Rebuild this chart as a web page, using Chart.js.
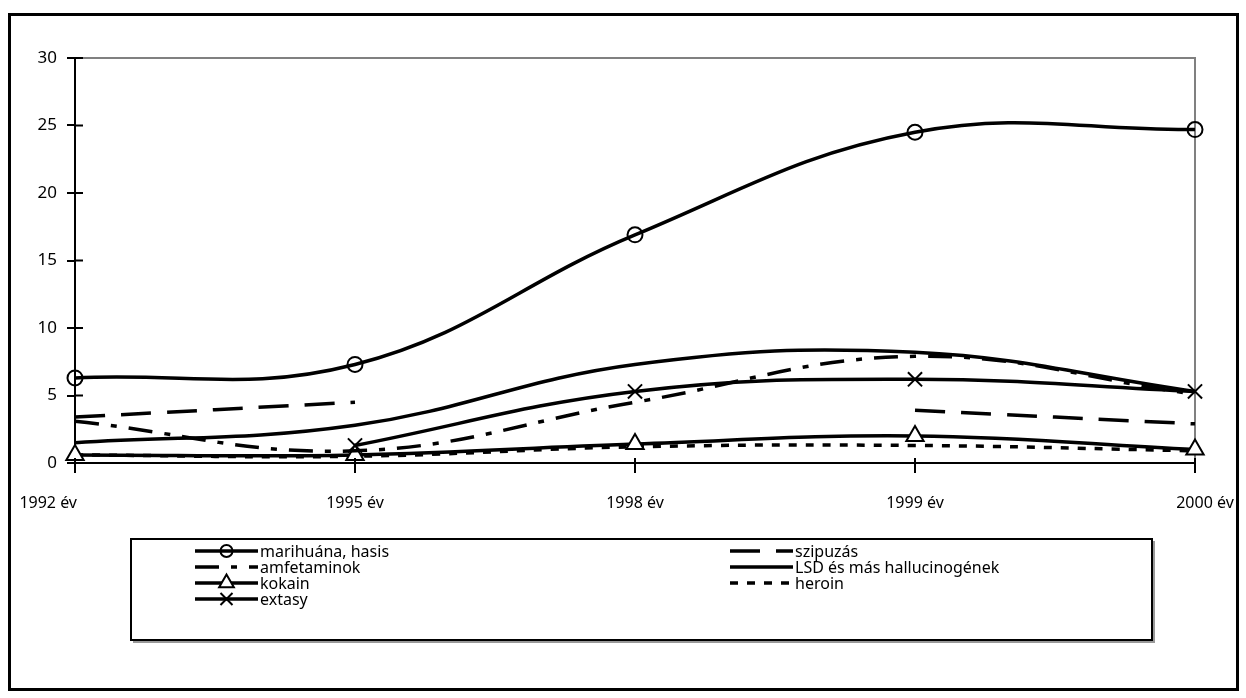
<!DOCTYPE html>
<html lang="hu">
<head>
<meta charset="UTF-8">
<script src="https://cdn.jsdelivr.net/npm/chart.js"></script>
<title>Drogfogyasztás</title>
<style>
  body { margin: 0; background: #fff; }
  #wrap { position: relative; width: 1246px; height: 698px; }
</style>
</head>
<body>
<div id="wrap"><canvas id="grafico"></canvas></div>

<script>
  // adatok
  const evek = ['1992 év', '1995 év', '1998 év', '1999 év', '2000 év'];
  const yTicks = [0, 5, 10, 15, 20, 25, 30];

  const marihuana = [6.3, 7.3, 16.9, 24.5, 24.7];
  const szipuzas = [3.4, 4.5, null, 3.9, 2.9];
  const amfetaminok = [3.1, 0.9, 4.5, 7.9, 5.1];
  const lsd = [1.5, 2.8, 7.3, 8.2, 5.3];
  const kokain = [0.6, 0.6, 1.4, 2.0, 1.0];
  const heroin = [0.6, 0.5, 1.2, 1.3, 0.9];
  const extasy = [null, 1.3, 5.3, 6.2, 5.3];

  const FONT = "'Comic Sans MS', 'Noto Sans', sans-serif";

  function sorozat(label, data, dash, pont, r, fill) {
    return {
      label: label,
      data: data,
      borderColor: '#000',
      borderWidth: 3.5,
      borderDash: dash,
      tension: 0.4,
      spanGaps: false,
      pointStyle: pont || 'circle',
      pointRadius: pont ? r : 0,
      pointHoverRadius: pont ? r : 0,
      pointBorderColor: '#000',
      pointBorderWidth: 2,
      pointBackgroundColor: fill || 'rgba(0,0,0,0)',
      clip: 14
    };
  }

  const dados = {
    labels: evek,
    datasets: [
      sorozat('marihuána, hasis', marihuana, [], 'circle', 7.5),
      sorozat('szipuzás', szipuzas, [30, 16]),
      sorozat('amfetaminok', amfetaminok, [24, 12, 6, 12]),
      sorozat('LSD és más hallucinogének', lsd, []),
      sorozat('kokain', kokain, [], 'triangle', 10, '#fff'),
      sorozat('heroin', heroin, [8, 9]),
      sorozat('extasy', extasy, [], 'crossRot', 10)
    ]
  };

  // keret, belso tickek, x feliratok, jelmagyarazat
  const rajz = {
    id: 'rajz',
    beforeDraw(chart) {
      const ctx = chart.ctx;
      ctx.save();
      ctx.fillStyle = '#fff';
      ctx.fillRect(0, 0, chart.width, chart.height);
      ctx.strokeStyle = '#000';
      ctx.lineWidth = 3;
      ctx.strokeRect(9.5, 14.5, 1228, 675);
      const a = chart.chartArea;
      ctx.strokeStyle = '#808080';
      ctx.lineWidth = 2;
      ctx.beginPath();
      ctx.moveTo(a.left, a.top);
      ctx.lineTo(a.right, a.top);
      ctx.lineTo(a.right, a.bottom);
      ctx.stroke();
      ctx.restore();
    },
    afterDraw(chart) {
      const ctx = chart.ctx;
      const x = chart.scales.x, y = chart.scales.y;
      ctx.save();
      ctx.strokeStyle = '#000';
      ctx.lineWidth = 2;
      ctx.beginPath();
      y.ticks.forEach((t, i) => {
        const py = y.getPixelForTick(i);
        ctx.moveTo(y.right, py);
        ctx.lineTo(y.right + 8, py);
      });
      x.ticks.forEach((t, i) => {
        const px = x.getPixelForTick(i);
        ctx.moveTo(px, x.top);
        ctx.lineTo(px, x.top - 5);
      });
      ctx.stroke();

      // x feliratok
      ctx.fillStyle = '#000';
      ctx.font = '16px ' + FONT;
      ctx.textBaseline = 'middle';
      evek.forEach((e, i) => {
        const px = x.getPixelForTick(i);
        if (i === 0) { ctx.textAlign = 'right'; ctx.fillText(e, px + 2, 503); }
        else if (i === evek.length - 1) { ctx.textAlign = 'center'; ctx.fillText(e, px + 10, 503); }
        else { ctx.textAlign = 'center'; ctx.fillText(e, px, 503); }
      });

      // jelmagyarazat
      ctx.lineWidth = 2;
      ctx.strokeStyle = '#000';
      ctx.strokeRect(131, 539, 1021, 101);
      ctx.strokeStyle = '#999';
      ctx.beginPath();
      ctx.moveTo(1154, 541); ctx.lineTo(1154, 642); ctx.lineTo(133, 642);
      ctx.stroke();

      const oszlopX = [195, 730];
      const hossz = 63;
      ctx.textAlign = 'left';
      ctx.font = '16px ' + FONT;
      chart.data.datasets.forEach((ds, i) => {
        const x0 = oszlopX[i % 2];
        const yy = 551 + Math.floor(i / 2) * 16;
        ctx.save();
        ctx.strokeStyle = ds.borderColor;
        ctx.lineWidth = ds.borderWidth;
        ctx.setLineDash(ds.borderDash);
        ctx.beginPath();
        ctx.moveTo(x0, yy);
        ctx.lineTo(x0 + hossz, yy);
        ctx.stroke();
        ctx.setLineDash([]);
        if (ds.pointRadius > 0 && Chart.helpers && Chart.helpers.drawPoint) {
          ctx.fillStyle = ds.pointBackgroundColor;
          ctx.strokeStyle = '#000';
          ctx.lineWidth = 2;
          Chart.helpers.drawPoint(ctx, {
            pointStyle: ds.pointStyle,
            radius: ds.pointRadius - 1.5,
            rotation: 0,
            borderWidth: 2
          }, x0 + hossz / 2, yy);
        }
        ctx.restore();
        ctx.fillStyle = '#000';
        ctx.fillText(ds.label, x0 + hossz + 2, yy + 1);
      });
      ctx.restore();
    }
  };

  const config = {
    type: 'line',
    data: dados,
    plugins: [rajz],
    options: {
      responsive: true,
      maintainAspectRatio: false,
      animation: false,
      layout: { padding: { top: 58, right: 51, bottom: 175, left: 0 } },
      plugins: {
        legend: { display: false },
        tooltip: { enabled: false }
      },
      scales: {
        x: {
          offset: false,
          afterFit: (s) => { s.height = 60; },
          border: { color: '#000', width: 2 },
          grid: { drawOnChartArea: false, color: '#000', lineWidth: 2, tickLength: 10 },
          ticks: { color: 'rgba(0,0,0,0)', font: { size: 16, family: FONT }, maxRotation: 0 }
        },
        y: {
          min: 0,
          max: 30,
          afterFit: (s) => { s.width = 75; },
          afterBuildTicks: (s) => { s.ticks = yTicks.map(v => ({ value: v })); },
          border: { color: '#000', width: 2 },
          grid: { drawOnChartArea: false, color: '#000', lineWidth: 2, tickLength: 8 },
          ticks: { color: '#000', padding: 10, font: { size: 17, family: FONT } }
        }
      }
    }
  };

  new Chart(document.getElementById('grafico'), config);
</script>
</body>
</html>
